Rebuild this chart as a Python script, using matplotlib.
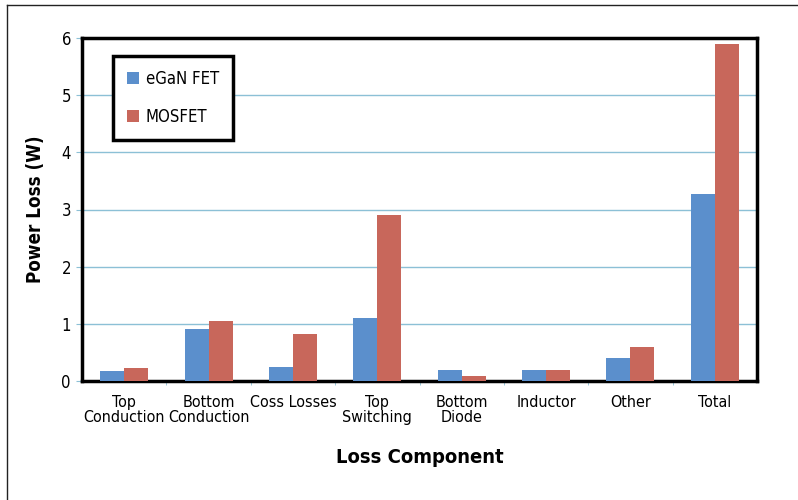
import matplotlib.pyplot as plt
import numpy as np
from matplotlib.lines import Line2D

categories = ["Top\nConduction", "Bottom\nConduction", "Coss Losses", "Top\nSwitching",
              "Bottom\nDiode", "Inductor", "Other", "Total"]
egan = [0.18, 0.91, 0.25, 1.10, 0.20, 0.20, 0.41, 3.27]
mosfet = [0.23, 1.05, 0.83, 2.90, 0.09, 0.20, 0.60, 5.90]

plt.rcParams['font.family'] = ['DejaVu Sans']
plt.rcParams['font.stretch'] = 'condensed'

fig = plt.figure(figsize=(7.98, 5.0), dpi=100)
ax = fig.add_axes([82/798, 1 - 381/500, (757 - 82)/798, (381 - 38)/500])

x = np.arange(len(categories))
w = 0.285
ax.bar(x - w/2, egan, w, color='#5b8fcc', label='eGaN FET', zorder=3)
ax.bar(x + w/2, mosfet, w, color='#c8675b', label='MOSFET', zorder=3)

ax.set_xlim(-0.5, len(categories) - 0.5)
ax.set_ylim(0, 6)
ax.set_yticks(range(7))
ax.set_yticklabels([str(i) for i in range(7)], fontsize=12)
ax.yaxis.grid(True, color='#8cc0d6', linewidth=1, zorder=0)

ax.set_xticks(x)
ax.set_xticklabels(categories, fontsize=11.5, linespacing=1.05)
ax.tick_params(axis='x', length=0, pad=10)
ax.set_xticks(np.arange(0.5, len(categories) - 1, 1), minor=True)
ax.tick_params(axis='x', which='minor', length=3, color='#8cc0d6')
ax.tick_params(axis='y', length=4, color='#8cc0d6', pad=4)

for s in ax.spines.values():
    s.set_linewidth(2.5)
    s.set_color('black')

ax.set_ylabel('Power Loss (W)', fontsize=13.5, fontweight='bold', labelpad=12)
ax.set_xlabel('Loss Component', fontsize=14.5, fontweight='bold', labelpad=16)

leg = ax.legend(loc='upper left', bbox_to_anchor=(31/675, 1 - 18/343), fontsize=12,
                frameon=True, fancybox=False, framealpha=1, handlelength=0.7, handleheight=0.7,
                labelspacing=1.2, borderpad=0.85, handletextpad=0.4, borderaxespad=0)
leg.get_frame().set_edgecolor('black')
leg.get_frame().set_linewidth(2.5)

# outer frame lines (left and top)
fig.add_artist(Line2D([7/798, 7/798], [0, 1 - 5/500], transform=fig.transFigure, color='#222222', lw=1))
fig.add_artist(Line2D([7/798, 1], [1 - 5/500, 1 - 5/500], transform=fig.transFigure, color='#222222', lw=1))

fig.savefig('out.png', dpi=100)
